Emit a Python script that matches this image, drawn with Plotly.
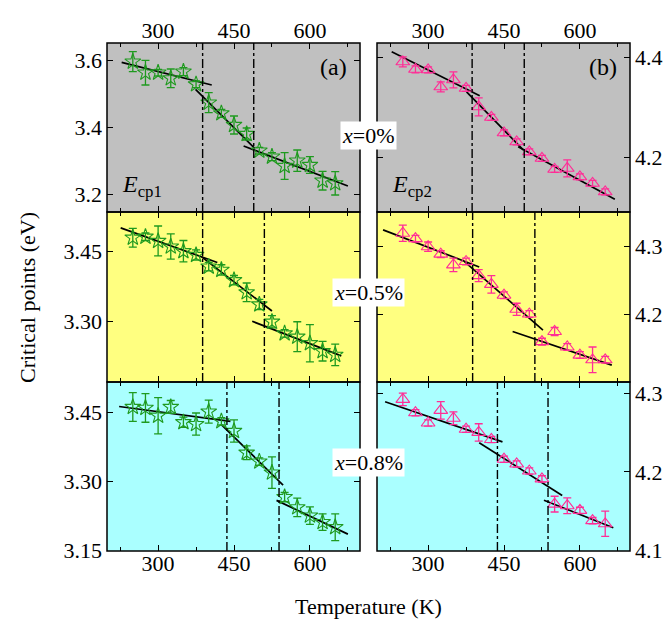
import plotly.graph_objects as go

# ---------------- data ----------------
T = [250, 275, 300, 325, 350, 375, 400, 425, 450, 475, 500, 525, 550, 575, 600, 625, 650]

# panel (a) E_cp1, x = 0 %, 0.5 %, 0.8 %
ecp1_x0 = [3.597, 3.564, 3.564, 3.547, 3.567, 3.529, 3.474, 3.442, 3.407, 3.380, 3.330, 3.312, 3.284, 3.300, 3.287, 3.240, 3.232]
ecp1_x0_err = [0.030, 0.037, 0.010, 0.028, 0.012, 0.010, 0.030, 0.012, 0.027, 0.018, 0.010, 0.012, 0.040, 0.032, 0.025, 0.028, 0.035]
ecp1_x05 = [3.480, 3.482, 3.473, 3.461, 3.451, 3.443, 3.418, 3.411, 3.389, 3.363, 3.337, 3.300, 3.275, 3.268, 3.254, 3.237, 3.229]
ecp1_x05_err = [0.020, 0.008, 0.032, 0.027, 0.023, 0.011, 0.009, 0.011, 0.010, 0.020, 0.011, 0.013, 0.008, 0.032, 0.040, 0.021, 0.023]
ecp1_x08 = [3.461, 3.459, 3.442, 3.461, 3.428, 3.424, 3.451, 3.430, 3.409, 3.362, 3.343, 3.319, 3.266, 3.244, 3.226, 3.212, 3.201]
ecp1_x08_err = [0.031, 0.031, 0.039, 0.014, 0.011, 0.024, 0.025, 0.008, 0.024, 0.015, 0.008, 0.034, 0.010, 0.020, 0.019, 0.018, 0.029]

# panel (b) E_cp2
ecp2_x0 = [4.391, 4.376, 4.375, 4.341, 4.355, 4.338, 4.301, 4.280, 4.249, 4.231, 4.211, 4.198, 4.176, 4.178, 4.161, 4.148, 4.131]
ecp2_x0_err = [0.010, 0.007, 0.006, 0.010, 0.016, 0.006, 0.018, 0.006, 0.006, 0.006, 0.006, 0.006, 0.006, 0.017, 0.006, 0.006, 0.006]
ecp2_x05 = [4.320, 4.312, 4.300, 4.289, 4.273, 4.278, 4.257, 4.244, 4.228, 4.207, 4.200, 4.159, 4.174, 4.151, 4.139, 4.132, 4.132]
ecp2_x05_err = [0.012, 0.005, 0.007, 0.005, 0.010, 0.005, 0.009, 0.013, 0.005, 0.009, 0.005, 0.005, 0.006, 0.005, 0.005, 0.019, 0.005]
ecp2_x08 = [4.292, 4.275, 4.262, 4.278, 4.268, 4.254, 4.250, 4.241, 4.216, 4.210, 4.201, 4.191, 4.159, 4.157, 4.151, 4.138, 4.134]
ecp2_x08_err = [0.008, 0.004, 0.004, 0.011, 0.008, 0.004, 0.011, 0.004, 0.004, 0.004, 0.004, 0.004, 0.010, 0.010, 0.004, 0.004, 0.016]

# linear fit segments: (T start, T end, E start, E end)
fit_a_x0 = [(228, 406, 3.595, 3.527), (374, 491, 3.514, 3.337), (469, 675, 3.344, 3.224)]
fit_b_x0 = [(228, 402, 4.411, 4.323), (376, 488, 4.331, 4.215), (478, 669, 4.221, 4.116)]
fit_a_x05 = [(226, 417, 3.501, 3.427), (386, 525, 3.439, 3.323), (486, 662, 3.301, 3.227)]
fit_b_x05 = [(211, 401, 4.325, 4.270), (372, 527, 4.278, 4.176), (467, 663, 4.174, 4.124)]
fit_a_x08 = [(223, 443, 3.462, 3.430), (425, 547, 3.423, 3.292), (534, 675, 3.259, 3.186)]
fit_b_x08 = [(215, 447, 4.289, 4.238), (401, 565, 4.237, 4.170), (529, 666, 4.164, 4.129)]

# transition temperatures (dash-dot lines)
trans_a_x0 = [388, 489]
trans_b_x0 = [387, 490]
trans_a_x05 = [388, 510]
trans_b_x05 = [388, 511]
trans_a_x08 = [436, 539]
trans_b_x08 = [437, 537]

x_ticks = [300, 450, 600]
x_minor = [225, 375, 525, 675]
compositions = ["<i>x</i>=0%", "<i>x</i>=0.5%", "<i>x</i>=0.8%"]

# ---------------- styling ----------------
W, H = 670, 623
FONT = '"Liberation Serif", "Times New Roman", Times, "DejaVu Serif", serif'
GREEN = "#1f9a1f"
PINK = "#ff2d96"
BG = ["#c0c0c0", "#ffff80", "#aaffff"]

col_px = [(107, 360), (377, 630)]
row_px = [(43, 212), (212, 382), (382, 551)]

yranges = [
    [[3.146, 3.653], [4.0906, 4.4286]],
    [[3.171, 3.535], [4.099, 4.3516]],
    [[3.1495, 3.515], [4.0995, 4.314]],
]
yticks = [
    [[3.2, 3.4, 3.6], [4.2, 4.4]],
    [[3.30, 3.45], [4.2, 4.3]],
    [[3.15, 3.30, 3.45], [4.1, 4.2, 4.3]],
]
yfmt = [[".1f", ".1f"], [".2f", ".1f"], [".2f", ".1f"]]

vals = [[ecp1_x0, ecp2_x0], [ecp1_x05, ecp2_x05], [ecp1_x08, ecp2_x08]]
errs = [[ecp1_x0_err, ecp2_x0_err], [ecp1_x05_err, ecp2_x05_err], [ecp1_x08_err, ecp2_x08_err]]
fits = [[fit_a_x0, fit_b_x0], [fit_a_x05, fit_b_x05], [fit_a_x08, fit_b_x08]]
trans = [[trans_a_x0, trans_b_x0], [trans_a_x05, trans_b_x05], [trans_a_x08, trans_b_x08]]

fig = go.Figure()
layout = dict(
    width=W, height=H,
    margin=dict(l=0, r=0, t=0, b=0, autoexpand=False),
    paper_bgcolor="white", plot_bgcolor="rgba(0,0,0,0)",
    showlegend=False,
    font=dict(family=FONT, size=22, color="black"),
)
shapes = []
annotations = []

for r in range(3):
    for c in range(2):
        i = r * 2 + c + 1
        xn = "x" if i == 1 else f"x{i}"
        yn = "y" if i == 1 else f"y{i}"
        xk = "xaxis" if i == 1 else f"xaxis{i}"
        yk = "yaxis" if i == 1 else f"yaxis{i}"
        x0p, x1p = col_px[c]
        y0p, y1p = row_px[r]
        # panel background in paper coordinates
        shapes.append(dict(type="rect", xref="paper", yref="paper",
                           x0=x0p / W, x1=x1p / W, y0=1 - y1p / H, y1=1 - y0p / H,
                           fillcolor=BG[r], line=dict(width=0), layer="below"))
        layout[xk] = dict(
            domain=[x0p / W, x1p / W], anchor=yn, range=[199, 699],
            tickvals=x_ticks, ticks="inside", ticklen=6, tickwidth=1.3, tickcolor="black",
            minor=dict(tickvals=x_minor, ticks="inside", ticklen=4, tickwidth=1.3, tickcolor="black"),
            showline=False, mirror="ticks",
            showgrid=False, zeroline=False, automargin=False,
            side="top" if r == 0 else "bottom",
            showticklabels=(r != 1),
            tickfont=dict(family=FONT, size=22, color="black"),
            ticklabelstandoff=(0 if r == 0 else -3),
        )
        layout[yk] = dict(
            domain=[1 - y1p / H, 1 - y0p / H], anchor=xn, range=yranges[r][c],
            tickvals=yticks[r][c], tickformat=yfmt[r][c],
            ticks="inside", ticklen=6, tickwidth=1.3, tickcolor="black",
            showline=False, mirror="ticks",
            showgrid=False, zeroline=False, automargin=False,
            side="left" if c == 0 else "right",
            tickfont=dict(family=FONT, size=22, color="black"),
            ticklabelstandoff=4,
        )
        # transition lines
        for t in trans[r][c]:
            shapes.append(dict(type="line", xref=xn, yref=f"{yn} domain",
                               x0=t, x1=t, y0=0, y1=1,
                               line=dict(color="black", width=1.4, dash="dashdot")))
        # fit lines
        for (ta, tb, ea, eb) in fits[r][c]:
            fig.add_trace(go.Scatter(x=[ta, tb], y=[ea, eb], mode="lines",
                                     line=dict(color="black", width=1.7),
                                     xaxis=xn, yaxis=yn, hoverinfo="skip"))
        color = GREEN if c == 0 else PINK
        symbol = "star-open" if c == 0 else "triangle-up-open"
        fig.add_trace(go.Scatter(
            x=T, y=vals[r][c], mode="markers",
            marker=dict(symbol=symbol, size=12, color=color,
                        line=dict(color=color, width=1.1)),
            error_y=dict(type="data", array=errs[r][c], color=color, thickness=1.3, width=4),
            xaxis=xn, yaxis=yn,
        ))
        # panel frame
        shapes.append(dict(type="rect", xref="paper", yref="paper",
                           x0=x0p / W, x1=x1p / W, y0=1 - y1p / H, y1=1 - y0p / H,
                           line=dict(color="black", width=1.5), layer="above"))


def note(text, xp, yp, size=22, **kw):
    d = dict(text=text, x=xp / W, y=1 - yp / H, xref="paper", yref="paper",
             xanchor="center", yanchor="middle", showarrow=False,
             font=dict(family=FONT, size=size, color="black"))
    d.update(kw)
    annotations.append(d)


note("(a)", 333, 67, size=24)
note("(b)", 603, 67, size=24)
note("<i>E</i><sub>cp1</sub>", 120, 186, size=24, xanchor="left")
note("<i>E</i><sub>cp2</sub>", 390, 186, size=24, xanchor="left")
for lab, yc in zip(compositions, [135, 292, 462]):
    note(lab, 368, yc, size=22, bgcolor="white", borderpad=1)
note("Critical points (eV)", 27, 298, size=22, textangle=-90)
note("Temperature (K)", 368, 606, size=22)

layout["shapes"] = shapes
layout["annotations"] = annotations
fig.update_layout(**layout)
fig.write_html("out.html")
